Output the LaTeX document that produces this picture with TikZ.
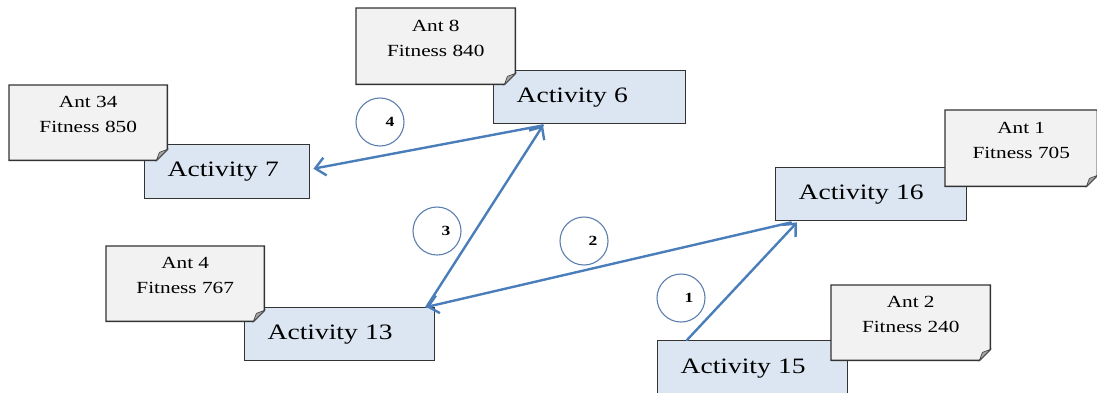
\documentclass[tikz,border=0pt]{standalone}
\usepackage{fontspec}
\setmainfont{Liberation Serif}[FakeStretch=1.25]
\usetikzlibrary{arrows.meta}
\definecolor{actfill}{HTML}{DCE6F2}
\definecolor{notefill}{HTML}{F2F2F2}
\definecolor{foldfill}{HTML}{A6A6A6}
\definecolor{arrowblue}{HTML}{4A7EBB}
\definecolor{circblue}{HTML}{5B7FAF}
\tikzset{
  act/.style={draw=black!80, line width=1.4pt, fill=actfill, anchor=north west,
    inner xsep=23pt, inner ysep=0pt, align=left, font=\fontsize{22}{26}\selectfont},
  notebase/.style={draw=none, fill=none, anchor=north west, inner sep=0pt},
  noteshape/.style={draw=black!80, line width=1.4pt, fill=notefill},
  foldshape/.style={draw=black!70, line width=0.7pt, fill=foldfill},
  notetext/.style={align=center, font=\fontsize{17}{25}\selectfont},
  circ/.style={circle, draw=circblue, line width=1.1pt, minimum size=48pt, inner sep=0pt},
  circnum/.style={font=\fontsize{14}{16}\selectfont\bfseries},
  conn/.style={draw=arrowblue, line width=2.4pt, line cap=round,
    -{Straight Barb[length=10pt,width=18pt,line width=2.4pt]}}
}
\newcommand{\antnote}[6]{%
  \node[notebase, minimum width=#4pt, minimum height=#5pt] (#1) at (#2,#3) {};
  \path[noteshape] (#1.north west) -- (#1.north east) -- ([yshift=11pt]#1.south east)
    -- ([xshift=-11pt]#1.south east) -- (#1.south west) -- cycle;
  \path[foldshape] ([xshift=-11pt]#1.south east) -- ([yshift=11pt]#1.south east)
    -- ([xshift=-8pt,yshift=8pt]#1.south east) .. controls ([xshift=-10pt,yshift=4pt]#1.south east) .. cycle;
  \node[notetext] at ([yshift=8pt]#1.center) {#6};
}
\begin{document}
\begin{tikzpicture}[x=1pt,y=-1pt]
\path[use as bounding box, fill=white] (0,0) rectangle (1097,392);
% activity boxes
\node[act, minimum height=54pt, text width=119pt] (a7) at (144,144) {Activity 7};
\node[act, minimum height=53pt, text width=146pt] (a6) at (493,70) {Activity 6};
\node[act, minimum height=53pt, text width=144pt] (a13) at (244,307) {Activity 13};
\node[act, minimum height=53pt, text width=145pt] (a16) at (775,167) {Activity 16};
\node[act, minimum height=56pt, text width=144pt] (a15) at (657,340) {Activity 15};
% notes
\antnote{n34}{9}{85}{158}{75}{Ant 34\\Fitness 850}
\antnote{n8}{356}{8}{159}{76}{Ant 8\\Fitness 840}
\antnote{n4}{106}{246}{158}{75}{Ant 4\\Fitness 767}
\antnote{n1}{945}{110}{152}{76}{Ant 1\\Fitness 705}
\antnote{n2}{831}{285}{159}{75}{Ant 2\\Fitness 240}
% circles
\node[circ] (c4) at (380,122) {};
\node[circnum] at ([xshift=10pt]c4.center) {4};
\node[circ] (c3) at (437,231) {};
\node[circnum] at ([xshift=9pt]c3.center) {3};
\node[circ] (c2) at (584,241) {};
\node[circnum] at ([xshift=9pt]c2.center) {2};
\node[circ] (c1) at (681,298) {};
\node[circnum] at ([xshift=8pt]c1.center) {1};
% connection points
\coordinate (p15) at ([xshift=30pt]a15.north west);
\coordinate (p16) at ([xshift=22pt,yshift=-1pt]a16.south west);
\coordinate (p13) at ([xshift=-9pt]a13.north east);
\coordinate (p6) at ([xshift=50pt,yshift=-1pt]a6.south west);
\coordinate (p7) at ([xshift=3pt,yshift=3pt]a7.east);
% arrows
\draw[conn] (p15) -- (p16);
\draw[conn] ([xshift=-6pt]p16) -- (p13);
\draw[conn] (p13) -- (p6);
\draw[conn] (p6) -- (p7);
\end{tikzpicture}
\end{document}
